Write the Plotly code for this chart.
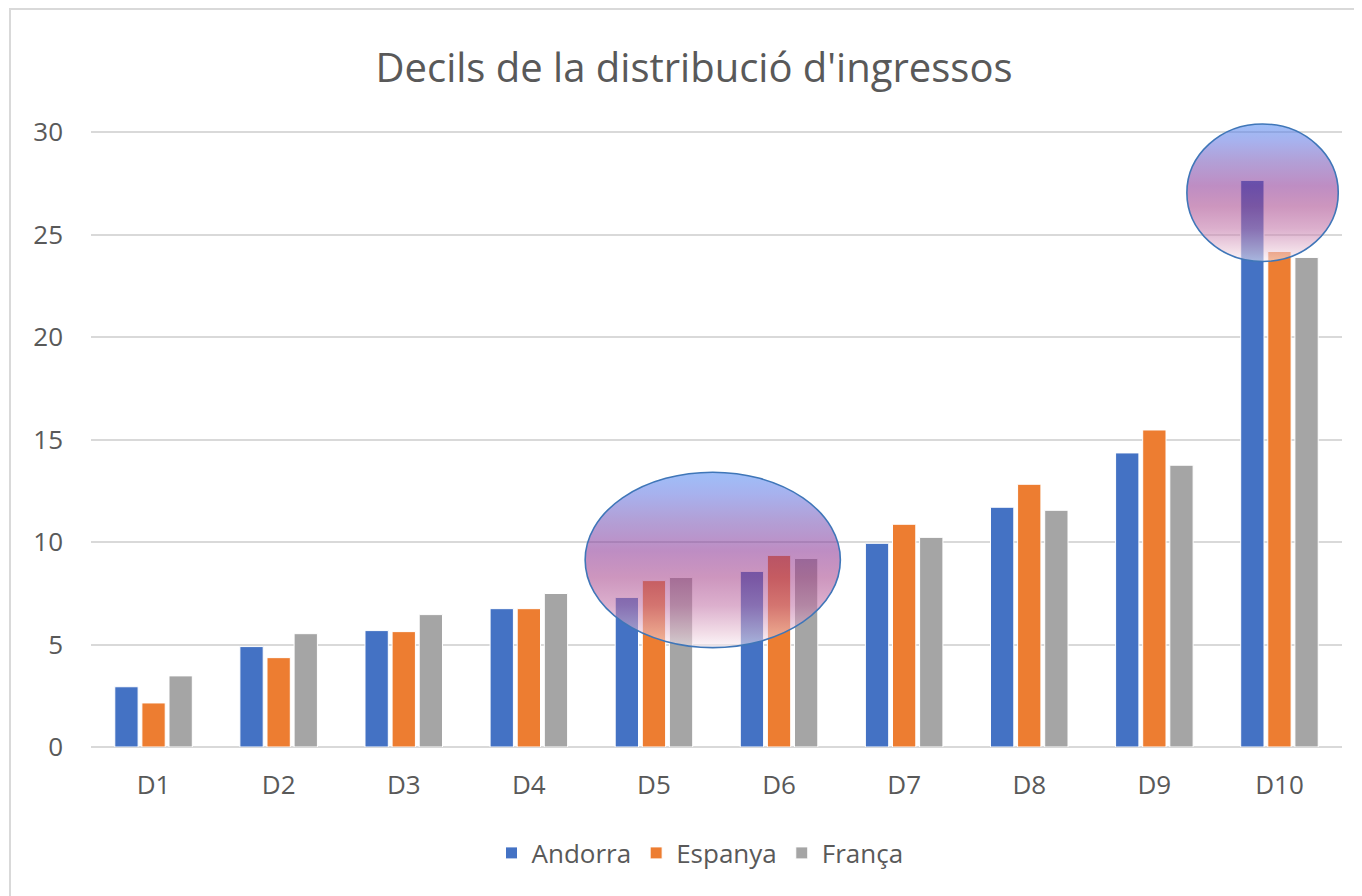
import base64
import plotly.graph_objects as go

categories = ["D1", "D2", "D3", "D4", "D5", "D6", "D7", "D8", "D9", "D10"]
andorra = [2.94, 4.9, 5.68, 6.75, 7.3, 8.57, 9.94, 11.7, 14.35, 27.65]
espanya = [2.15, 4.36, 5.63, 6.75, 8.12, 9.35, 10.87, 12.82, 15.47, 24.18]
franca = [3.47, 5.53, 6.46, 7.49, 8.27, 9.2, 10.23, 11.55, 13.75, 23.89]
series_names = ["Andorra", "Espanya", "França"]
series_colors = ["#4472C4", "#ED7D31", "#A5A5A5"]
y_ticks = [0, 5, 10, 15, 20, 25, 30]

# highlight ellipses (category-index x range, value y range)
highlights = [
    {"x0": 3.45, "x1": 5.49, "y0": 4.85, "y1": 13.41},
    {"x0": 8.26, "x1": 9.47, "y0": 23.69, "y1": 30.4},
]

text_color = "#595959"
font_family = "Open Sans, Noto Sans, sans-serif"

W, H = 1354, 888
ML, MR, MT, MB = 83, 20, 115, 149
plot_w = W - ML - MR
plot_h = H - MT - MB

idx = list(range(len(categories)))
fig = go.Figure()
for name, vals, col in zip(series_names, [andorra, espanya, franca], series_colors):
    fig.add_trace(go.Bar(
        x=idx, y=vals, name=name,
        marker=dict(color=col, line=dict(color="white", width=1)),
    ))

stops = [
    (0.0, (79, 137, 242), 0.55),
    (0.12, (95, 115, 225), 0.55),
    (0.27, (115, 82, 182), 0.55),
    (0.45, (137, 48, 146), 0.55),
    (0.6, (164, 64, 137), 0.55),
    (0.76, (191, 110, 164), 0.55),
    (0.92, (232, 195, 213), 0.55),
    (1.0, (250, 240, 246), 0.55),
]
stop_xml = "".join(
    f"<stop offset='{o}' stop-color='rgb({c[0]},{c[1]},{c[2]})' stop-opacity='{a}'/>"
    for o, c, a in stops
)
svg = (
    "<svg xmlns='http://www.w3.org/2000/svg' width='200' height='200' "
    "viewBox='0 0 200 200' preserveAspectRatio='none'>"
    "<defs><linearGradient id='g' x1='0' y1='0' x2='0' y2='1'>"
    + stop_xml +
    "</linearGradient></defs>"
    "<ellipse cx='100' cy='100' rx='100' ry='100' fill='url(#g)'/></svg>"
)
src = "data:image/svg+xml;base64," + base64.b64encode(svg.encode()).decode()

images = []
shapes = []
for h in highlights:
    images.append(dict(
        source=src, xref="x", yref="y",
        x=h["x0"], y=h["y1"], sizex=h["x1"] - h["x0"], sizey=h["y1"] - h["y0"],
        sizing="stretch", xanchor="left", yanchor="top", layer="above",
    ))
    shapes.append(dict(
        type="circle", xref="x", yref="y",
        x0=h["x0"], x1=h["x1"], y0=h["y0"], y1=h["y1"],
        line=dict(color="#3F76B8", width=1.6), fillcolor="rgba(0,0,0,0)",
        layer="above",
    ))

# outer chart border (left / top visible)
shapes.append(dict(
    type="rect", xref="paper", yref="paper",
    x0=(2 - ML) / plot_w, x1=1.2, y0=-0.6, y1=(H - MB - 1) / plot_h,
    line=dict(color="#D9D9D9", width=2), fillcolor="rgba(0,0,0,0)", layer="below",
))

fig.update_layout(
    width=W, height=H,
    margin=dict(l=ML, r=MR, t=MT, b=MB),
    paper_bgcolor="white", plot_bgcolor="white",
    barmode="group", bargap=0.35, bargroupgap=0.14,
    title=dict(
        text="Decils de la distribució d'ingressos",
        x=686 / W, xanchor="center", y=1 - 60 / H, yanchor="middle",
        font=dict(family=font_family, size=40, color=text_color),
    ),
    font=dict(family=font_family, color=text_color),
    xaxis=dict(
        range=[-0.5, 9.5], tickvals=idx, ticktext=categories,
        showgrid=False, zeroline=False, showline=False,
        tickfont=dict(size=26, color=text_color), ticklabelstandoff=20,
        ticks="",
    ),
    yaxis=dict(
        range=[0, 30.45], tickvals=y_ticks,
        showgrid=True, gridcolor="#D9D9D9", gridwidth=2,
        zeroline=True, zerolinecolor="#D9D9D9", zerolinewidth=2,
        tickfont=dict(size=26, color=text_color), ticklabelstandoff=27,
        ticks="",
    ),
    legend=dict(
        orientation="h", x=692 / W * W / plot_w - ML / plot_w, xanchor="center",
        y=(H - MB - 845) / plot_h, yanchor="middle",
        font=dict(size=26, color=text_color), itemwidth=30,
    ),
    images=images, shapes=shapes,
)

fig.write_html("out.html")
